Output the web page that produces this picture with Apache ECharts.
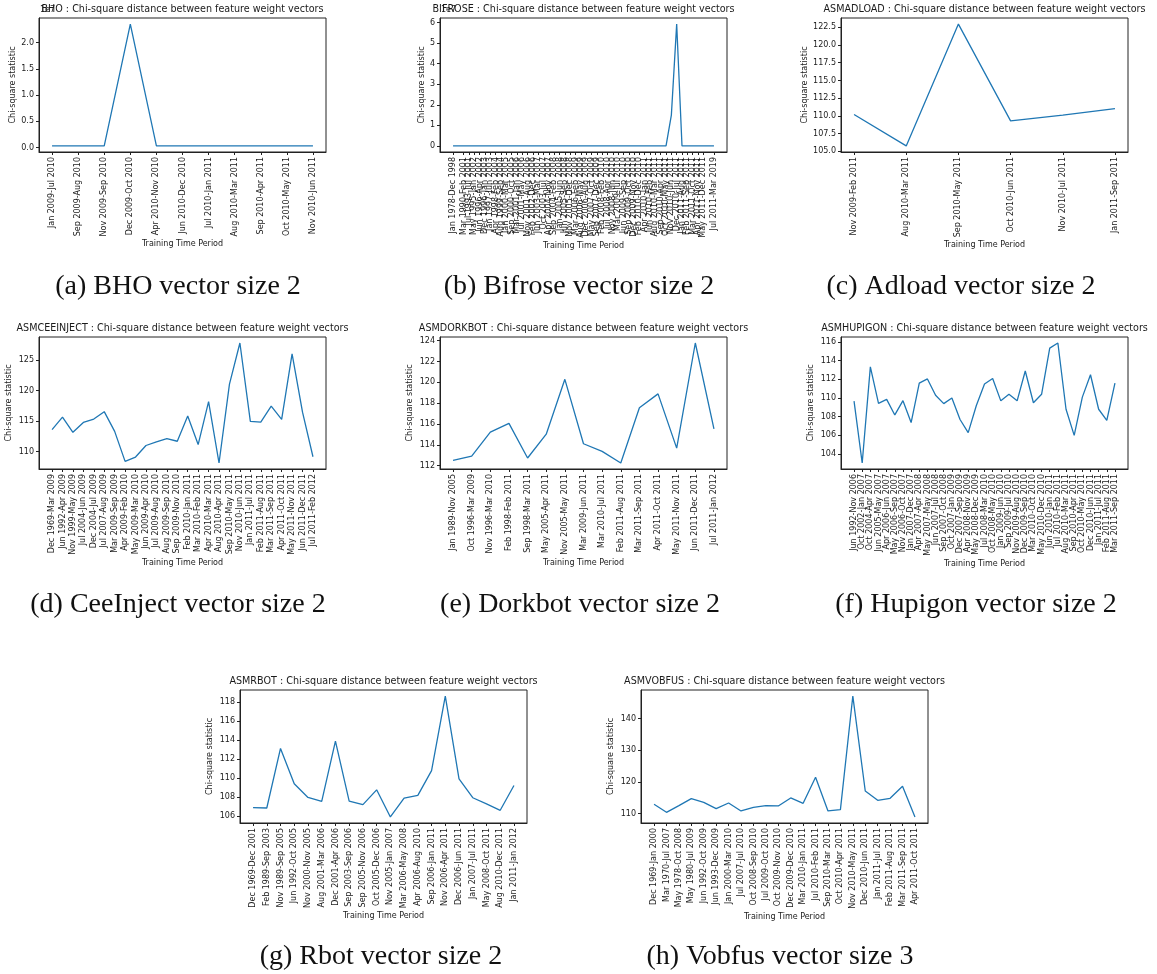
<!DOCTYPE html>
<html><head><meta charset="utf-8">
<script src="https://cdn.jsdelivr.net/npm/echarts@6/dist/echarts.min.js"></script>
<style>html,body{margin:0;padding:0;background:#fff}#c{width:1157px;height:974px}</style>
</head><body><div id="c"></div>
<script>
// ---------------- DATA ----------------
const bhoCategories = ["Jan 2009-Jul 2010","Sep 2009-Aug 2010","Nov 2009-Sep 2010","Dec 2009-Oct 2010","Apr 2010-Nov 2010","Jun 2010-Dec 2010","Jul 2010-Jan 2011","Aug 2010-Mar 2011","Sep 2010-Apr 2011","Oct 2010-May 2011","Nov 2010-Jun 2011"];
const bhoValues = [320000,320000,320000,23500000,320000,320000,320000,320000,320000,320000,320000];
const bhoYTicks = [0,5000000,10000000,15000000,20000000];

const bifroseCategories = ["Jan 1978-Dec 1998","Oct 1988-Jan 2001","Mar 1990-Feb 2001","Jul 1993-Jul 2001","May 1995-Jan 2002","Jun 1996-Apr 2002","Dec 1996-Jan 2003","Jan 1997-Jun 2003","Apr 1998-Feb 2004","Aug 1999-Sep 2004","Jan 2000-Mar 2005","Sep 2000-Oct 2005","Mar 2001-Jan 2006","Jul 2001-May 2006","Nov 2001-Aug 2006","Feb 2002-Dec 2006","Jun 2003-Mar 2007","Oct 2003-Jul 2007","Apr 2004-Nov 2007","Sep 2004-Feb 2008","Jan 2005-Jun 2008","Jun 2005-Sep 2008","Nov 2005-Dec 2008","Mar 2006-Feb 2009","Aug 2006-May 2009","Dec 2006-Aug 2009","May 2007-Oct 2009","Sep 2007-Dec 2009","Feb 2008-Feb 2010","Jul 2008-Apr 2010","Nov 2008-Jun 2010","Mar 2009-Jul 2010","Jun 2009-Sep 2010","Sep 2009-Oct 2010","Dec 2009-Nov 2010","Feb 2010-Dec 2010","Apr 2010-Jan 2011","Jun 2010-Feb 2011","Aug 2010-Mar 2011","Sep 2010-Apr 2011","Oct 2010-May 2011","Nov 2010-Jun 2011","Dec 2010-Jul 2011","Jan 2011-Aug 2011","Feb 2011-Sep 2011","Mar 2011-Oct 2011","Apr 2011-Nov 2011","May 2011-Dec 2011","Jun 2011-Feb 2012","Jul 2011-Mar 2019"];
const bifroseValues = [110,112,109,111,110,113,108,110,111,109,112,110,108,111,110,109,112,110,111,108,110,113,109,110,111,110,108,112,110,109,111,110,112,109,110,111,108,110,112,110,111,15000000,59300000,110,109,112,110,111,108,110];
const bifroseYTicks = [0,10000000,20000000,30000000,40000000,50000000,60000000];

const adloadCategories = ["Nov 2009-Feb 2011","Aug 2010-Mar 2011","Sep 2010-May 2011","Oct 2010-Jun 2011","Nov 2010-Jul 2011","Jan 2011-Sep 2011"];
const adloadValues = [110.19,105.75,122.96,109.29,110.1,111.03];
const adloadYTicks = [105,107.5,110,112.5,115,117.5,120,122.5];

const ceeinjectCategories = ["Dec 1969-Mar 2009","Jun 1992-Apr 2009","Nov 1999-May 2009","Jul 2004-Jun 2009","Dec 2004-Jul 2009","Jul 2007-Aug 2009","Mar 2009-Sep 2009","Apr 2009-Feb 2010","May 2009-Mar 2010","Jun 2009-Apr 2010","Jul 2009-Aug 2010","Aug 2009-Sep 2010","Sep 2009-Nov 2010","Feb 2010-Jan 2011","Mar 2010-Feb 2011","Apr 2010-Mar 2011","Aug 2010-Apr 2011","Sep 2010-May 2011","Nov 2010-Jun 2011","Jan 2011-Jul 2011","Feb 2011-Aug 2011","Mar 2011-Sep 2011","Apr 2011-Oct 2011","May 2011-Nov 2011","Jun 2011-Dec 2011","Jul 2011-Feb 2012"];
const ceeinjectValues = [113.6,115.65,113.15,114.78,115.33,116.55,113.3,108.37,109.08,110.98,111.58,112.12,111.68,115.82,111.14,118.2,108.1,121.09,127.85,114.95,114.84,117.45,115.27,126.05,116.47,109.13];
const ceeinjectYTicks = [110,115,120,125];

const dorkbotCategories = ["Jan 1989-Nov 2005","Oct 1996-Mar 2009","Nov 1996-Mar 2010","Feb 1998-Feb 2011","Sep 1998-Mar 2011","May 2005-Apr 2011","Nov 2005-May 2011","Mar 2009-Jun 2011","Mar 2010-Jul 2011","Feb 2011-Aug 2011","Mar 2011-Sep 2011","Apr 2011-Oct 2011","May 2011-Nov 2011","Jun 2011-Dec 2011","Jul 2011-Jan 2012"];
const dorkbotValues = [112.51,112.92,115.21,116.06,112.73,115.02,120.29,114.1,113.37,112.25,117.56,118.89,113.68,123.78,115.52];
const dorkbotYTicks = [112,114,116,118,120,122,124];

const hupigonCategories = ["Jun 1992-Nov 2006","Oct 2002-Jan 2007","Oct 2004-Apr 2007","Jun 2005-May 2007","Apr 2006-Jun 2007","May 2006-Sep 2007","Nov 2006-Oct 2007","Jan 2007-Dec 2007","Apr 2007-Apr 2008","May 2007-May 2008","Jun 2007-Jul 2008","Sep 2007-Oct 2008","Oct 2007-Jan 2009","Dec 2007-Sep 2009","Apr 2008-Nov 2009","May 2008-Dec 2009","Jul 2008-Mar 2010","Oct 2008-May 2010","Jan 2009-Jun 2010","Sep 2009-Jul 2010","Nov 2009-Aug 2010","Dec 2009-Sep 2010","Mar 2010-Oct 2010","May 2010-Dec 2010","Jun 2010-Jan 2011","Jul 2010-Feb 2011","Aug 2010-Mar 2011","Sep 2010-Apr 2011","Oct 2010-May 2011","Dec 2010-Jun 2011","Jan 2011-Jul 2011","Feb 2011-Aug 2011","Mar 2011-Sep 2011"];
const hupigonValues = [109.68,103.04,113.34,109.43,109.86,108.19,109.72,107.37,111.6,112.05,110.3,109.4,110.0,107.7,106.3,109.2,111.5,112.1,109.7,110.4,109.7,112.9,109.5,110.4,115.35,115.9,108.8,106.0,110.1,112.5,108.8,107.6,111.6];
const hupigonYTicks = [104,106,108,110,112,114,116];

const rbotCategories = ["Dec 1969-Dec 2001","Feb 1989-Sep 2003","Nov 1989-Sep 2005","Jun 1992-Oct 2005","Nov 2000-Nov 2005","Aug 2001-Mar 2006","Dec 2001-Apr 2006","Sep 2003-Sep 2006","Sep 2005-Nov 2006","Oct 2005-Dec 2006","Nov 2005-Jan 2007","Mar 2006-May 2008","Apr 2006-Aug 2010","Sep 2006-Jan 2011","Nov 2006-Apr 2011","Dec 2006-Jun 2011","Jan 2007-Jul 2011","May 2008-Oct 2011","Aug 2010-Dec 2011","Jan 2011-Jan 2012"];
const rbotValues = [106.9,106.87,113.13,109.41,107.98,107.57,113.9,107.6,107.22,108.78,105.93,107.91,108.19,110.8,118.63,109.93,107.95,107.3,106.63,109.23];
const rbotYTicks = [106,108,110,112,114,116,118];

const vobfusCategories = ["Dec 1969-Jan 2000","Mar 1970-Jul 2007","May 1978-Oct 2008","May 1980-Jul 2009","Jun 1992-Oct 2009","Jun 1993-Dec 2009","Jan 2000-Mar 2010","Jul 2007-Jul 2010","Oct 2008-Sep 2010","Jul 2009-Oct 2010","Oct 2009-Nov 2010","Dec 2009-Dec 2010","Mar 2010-Jan 2011","Jul 2010-Feb 2011","Sep 2010-Mar 2011","Oct 2010-Apr 2011","Nov 2010-May 2011","Dec 2010-Jun 2011","Jan 2011-Jul 2011","Feb 2011-Aug 2011","Mar 2011-Sep 2011","Apr 2011-Oct 2011"];
const vobfusValues = [112.95,110.42,112.53,114.74,113.58,111.58,113.37,110.84,112.0,112.53,112.42,114.95,113.26,121.47,110.84,111.26,147.16,117.16,114.21,114.84,118.63,108.95];
const vobfusYTicks = [110,120,130,140];

// ---------------- LAYOUT ----------------
const FONT = 'DejaVu Sans';
const TXT = '#1a1a1a';
const panels = [
  {name:'BHO', cats:bhoCategories, vals:bhoValues, yTicks:bhoYTicks, fmt:v=>(v/1e7).toFixed(1), offset:'1e7',
   left:39, top:18, height:134, yGap:22, xGap:86, caption:'(a) BHO vector size 2', capX:178, capY:287},
  {name:'BIFROSE', cats:bifroseCategories, vals:bifroseValues, yTicks:bifroseYTicks, fmt:v=>(v/1e7).toFixed(0), offset:'1e7',
   left:440, top:18, height:134, yGap:14, xGap:88, caption:'(b) Bifrose vector size 2', capX:579, capY:287},
  {name:'ASMADLOAD', cats:adloadCategories, vals:adloadValues, yTicks:adloadYTicks, fmt:v=>v.toFixed(1),
   left:841, top:18, height:134, yGap:32, xGap:88, caption:'(c) Adload vector size 2', capX:961, capY:287},
  {name:'ASMCEEINJECT', cats:ceeinjectCategories, vals:ceeinjectValues, yTicks:ceeinjectYTicks, fmt:v=>v.toFixed(0),
   left:39, top:337, height:132, yGap:26, xGap:90, caption:'(d) CeeInject vector size 2', capX:178, capY:605},
  {name:'ASMDORKBOT', cats:dorkbotCategories, vals:dorkbotValues, yTicks:dorkbotYTicks, fmt:v=>v.toFixed(0),
   left:440, top:337, height:132, yGap:26, xGap:90, caption:'(e) Dorkbot vector size 2', capX:580, capY:605},
  {name:'ASMHUPIGON', cats:hupigonCategories, vals:hupigonValues, yTicks:hupigonYTicks, fmt:v=>v.toFixed(0),
   left:841, top:337, height:132, yGap:26, xGap:90, caption:'(f) Hupigon vector size 2', capX:976, capY:605},
  {name:'ASMRBOT', cats:rbotCategories, vals:rbotValues, yTicks:rbotYTicks, fmt:v=>v.toFixed(0),
   left:240, top:690, height:133, yGap:26, xGap:87, caption:'(g) Rbot vector size 2', capX:381, capY:957},
  {name:'ASMVOBFUS', cats:vobfusCategories, vals:vobfusValues, yTicks:vobfusYTicks, fmt:v=>v.toFixed(0),
   left:641, top:690, height:133, yGap:26, xGap:88, caption:'(h) Vobfus vector size 3', capX:780, capY:957}
];
const W = 287;

const grid = [], xAxis = [], yAxis = [], series = [], graphics = [];
panels.forEach((p, k) => {
  const n = p.cats.length;
  const idx = p.cats.map((c, i) => i);
  const vmin = Math.min(...p.vals), vmax = Math.max(...p.vals);
  const pad = 0.05 * (vmax - vmin);
  grid.push({left:p.left, top:p.top, width:W, height:p.height, show:true, borderColor:'#222', borderWidth:1,
             backgroundColor:'transparent', containLabel:false, outerBoundsMode:'none'});
  xAxis.push({
    type:'value', gridIndex:k, min:-0.05*(n-1), max:(n-1)*1.05,
    axisLine:{show:true, onZero:false, lineStyle:{color:'#222', width:1}},
    splitLine:{show:false},
    axisTick:{show:true, customValues:idx, length:3, lineStyle:{color:'#222', width:1}},
    axisLabel:{show:true, customValues:idx, rotate:90, margin:5, fontSize:8, fontFamily:FONT, color:TXT,
               showMinLabel:true, showMaxLabel:true, hideOverlap:false,
               formatter:v => { const i = Math.round(v); return Math.abs(v - i) < 1e-6 && p.cats[i] ? p.cats[i] : ''; }},
    name:'Training Time Period', nameLocation:'middle', nameGap:p.xGap,
    nameTextStyle:{fontSize:8, fontFamily:FONT, color:TXT}
  });
  yAxis.push({
    type:'value', gridIndex:k, min:vmin - pad, max:vmax + pad,
    axisLine:{show:true, onZero:false, lineStyle:{color:'#222', width:1}},
    splitLine:{show:false},
    axisTick:{show:true, customValues:p.yTicks, length:3, lineStyle:{color:'#222', width:1}},
    axisLabel:{show:true, customValues:p.yTicks, margin:5, fontSize:8, fontFamily:FONT, color:TXT,
               showMinLabel:true, showMaxLabel:true, formatter:p.fmt},
    name:'Chi-square statistic', nameLocation:'middle', nameGap:p.yGap, nameRotate:90,
    nameTextStyle:{fontSize:8, fontFamily:FONT, color:TXT}
  });
  series.push({type:'line', xAxisIndex:k, yAxisIndex:k, data:p.vals.map((v, i) => [i, v]),
    showSymbol:false, symbol:'none', lineStyle:{color:'#1f77b4', width:1.3}, itemStyle:{color:'#1f77b4'},
    animation:false, silent:true});
  if (p.offset) {
    graphics.push({type:'text', x:p.left + 1, y:p.top - 8, z:1,
      style:{text:p.offset, fill:TXT, font:'8px "DejaVu Sans"', align:'left', textAlign:'left',
             verticalAlign:'middle', textVerticalAlign:'middle'}});
  }
  graphics.push({type:'text', x:p.left + W/2, y:p.top - 8.5, z:2,
    style:{text:p.name + ' : Chi-square distance between feature weight vectors', fill:TXT,
           font:'9.6px "DejaVu Sans"', align:'center', textAlign:'center', verticalAlign:'middle', textVerticalAlign:'middle'}});
  graphics.push({type:'text', x:p.capX, y:p.capY, z:2,
    style:{text:p.caption, fill:'#111', font:'28px "Liberation Serif"', align:'center', textAlign:'center',
           verticalAlign:'middle', textVerticalAlign:'middle'}});
});

const chart = echarts.init(document.getElementById('c'), null, {renderer:'canvas'});
chart.setOption({
  backgroundColor:'#fff',
  animation:false,
  grid, xAxis, yAxis, series,
  graphic:{elements:graphics}
});
</script>
</body></html>
